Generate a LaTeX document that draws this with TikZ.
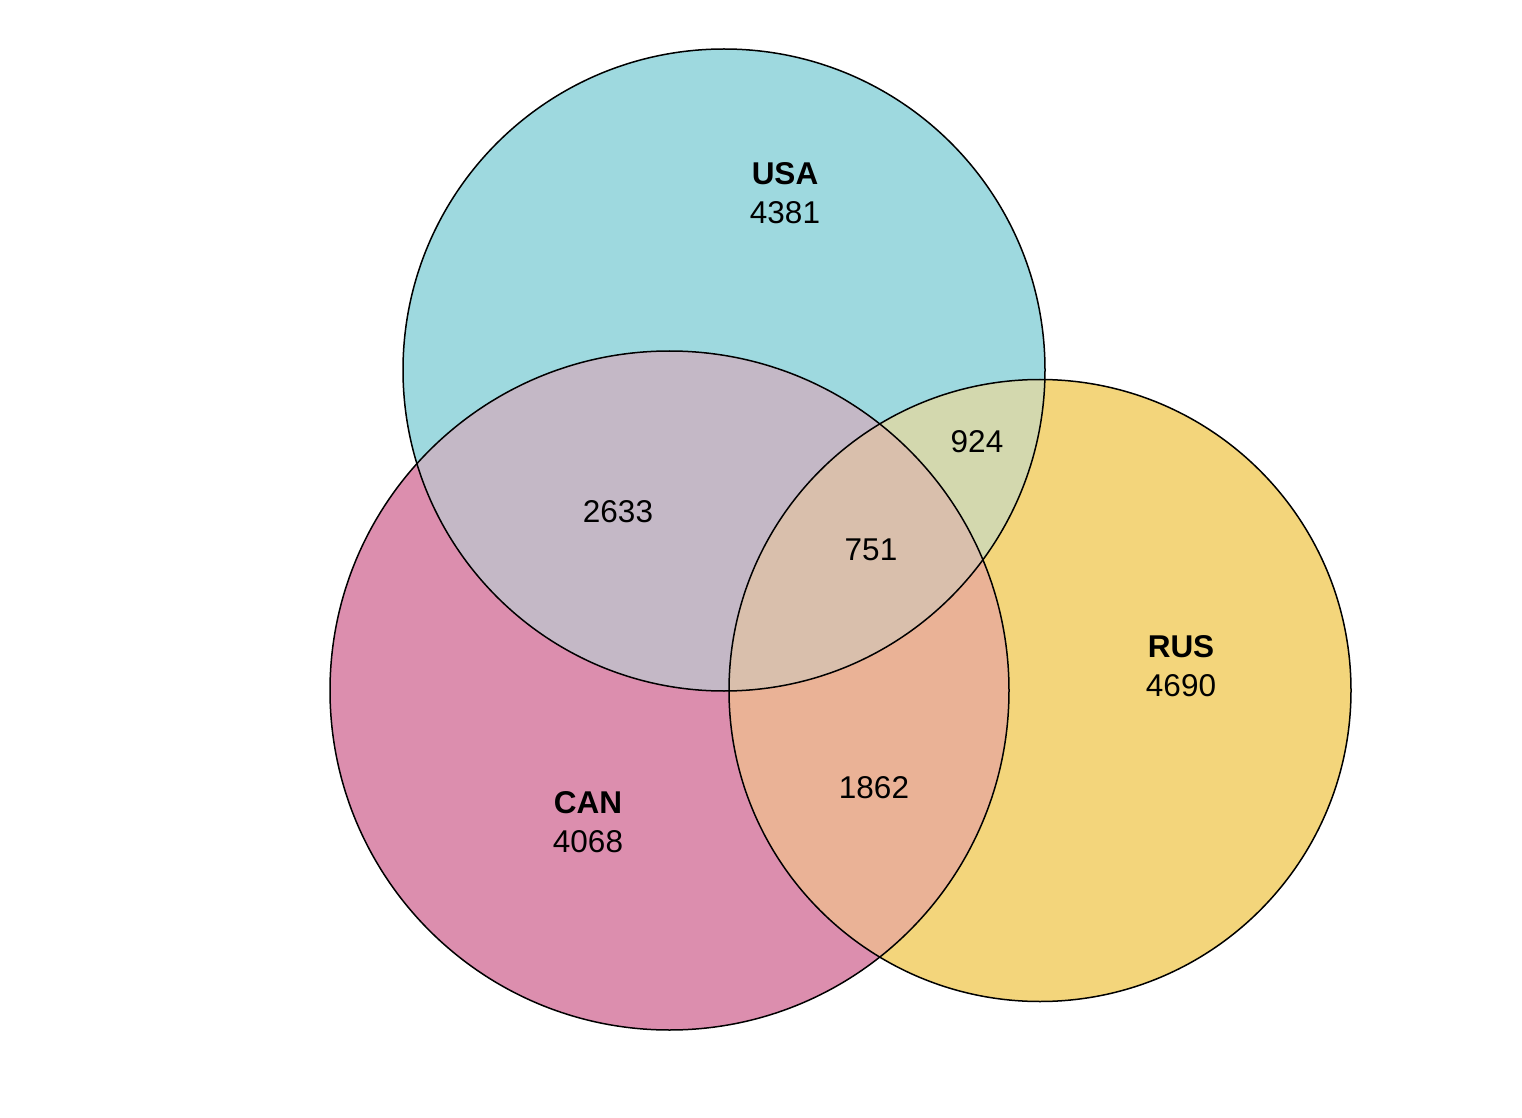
\documentclass[tikz,border=0pt]{standalone}
\usepackage{fontspec}
\setmainfont{Liberation Sans}
\definecolor{cusa}{HTML}{9ED9DF}
\definecolor{ccan}{HTML}{DC8EAE}
\definecolor{crus}{HTML}{F3D57B}
\definecolor{cuc}{HTML}{C4B8C6}
\definecolor{cur}{HTML}{D3D8AE}
\definecolor{ccr}{HTML}{EAB296}
\definecolor{call}{HTML}{D9BFAC}
\tikzset{
  setlabel/.style={font=\fontsize{15.75}{19.5}\selectfont, align=center, inner sep=0pt},
  numlabel/.style={font=\fontsize{15.75}{19.5}\selectfont, inner sep=0pt},
  outline/.style={draw=black, line width=0.75pt}
}
\begin{document}
\begin{tikzpicture}[x=0.5pt,y=-0.5pt]
\useasboundingbox (0,0) rectangle (1522,1118);
\fill[white] (0,0) rectangle (1522,1118);
\def\usa{(724,370) circle[radius=321]}
\def\can{(669.5,690.5) circle[radius=339.5]}
\def\rus{(1040,690.5) circle[radius=311]}
% base fills
\fill[cusa] \usa;
\fill[ccan] \can;
\fill[crus] \rus;
% pairwise overlaps
\begin{scope}\clip \usa; \fill[cuc] \can; \end{scope}
\begin{scope}\clip \usa; \fill[cur] \rus; \end{scope}
\begin{scope}\clip \can; \fill[ccr] \rus; \end{scope}
\begin{scope}\clip \usa; \clip \can; \fill[call] \rus; \end{scope}
% outlines
\draw[outline] \usa;
\draw[outline] \can;
\draw[outline] \rus;
% labels
\node[setlabel] (lusa) at (785,193) {\textbf{USA}\\4381};
\node[setlabel] (lcan) at (588,822) {\textbf{CAN}\\4068};
\node[setlabel] (lrus) at (1181,666) {\textbf{RUS}\\4690};
\node[numlabel] (nuc) at (618,512) {2633};
\node[numlabel] (nall) at (871,550) {751};
\node[numlabel] (nur) at (977,442) {924};
\node[numlabel] (ncr) at (874,788) {1862};
\end{tikzpicture}
\end{document}
